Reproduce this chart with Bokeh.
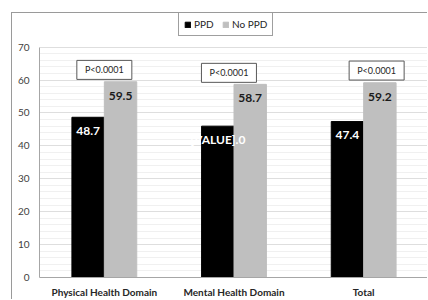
from bokeh.plotting import figure
from bokeh.models import Range1d, FactorRange, FixedTicker, Legend, ColumnDataSource
from bokeh.transform import dodge
from bokeh.core.properties import value
from bokeh.embed import file_html
from bokeh.resources import INLINE

# ---- data ----
categories = ["Physical Health Domain", "Mental Health Domain", "Total"]
ppd = [48.7, 46.0, 47.4]
no_ppd = [59.5, 58.7, 59.2]
ppd_labels = ["48.7", "[VALUE].0", "47.4"]
no_ppd_labels = ["59.5", "58.7", "59.2"]
p_texts = ["P<0.0001", "P<0.0001", "P<0.0001"]
y_ticks = [0, 10, 20, 30, 40, 50, 60, 70]

# ---- layout constants (annotation placement) ----
p_box_dx = [0.0, -0.039, 0.10]
p_box_y = [63.1, 62.2, 62.9]
label_drop = 4.2
FONT = "Lato"
bw = 0.25

src = ColumnDataSource(dict(
    cat=categories, ppd=ppd, no_ppd=no_ppd,
    ppd_ly=[v - label_drop for v in ppd],
    no_ly=[v - label_drop for v in no_ppd],
    ppd_labels=ppd_labels, no_ppd_labels=no_ppd_labels,
))

p = figure(width=416, height=287, x_range=FactorRange(*categories), y_range=Range1d(0, 80.24),
           output_backend="svg", toolbar_location=None,
           min_border_left=27, min_border_right=0, min_border_bottom=23, min_border_top=0)
p.outline_line_color = None
p.background_fill_color = "white"
p.border_fill_color = "white"
p.styles = {"margin-left": "11px", "margin-top": "12px",
            "border-left": "1px solid #9a9a9a", "border-top": "1px solid #9a9a9a"}

xl = dodge("cat", -bw / 2, range=p.x_range)
xr = dodge("cat", bw / 2, range=p.x_range)

r1 = p.vbar(x=xl, top="ppd", width=bw, bottom=0, source=src,
            fill_color="black", line_color="black")
r2 = p.vbar(x=xr, top="no_ppd", width=bw, bottom=0, source=src,
            fill_color="#bfbfbf", line_color="#bfbfbf")

p.text(x=xl, y="ppd_ly", text="ppd_labels", source=src, text_color="white",
       text_font=value(FONT), text_font_style="bold", text_font_size="12px",
       text_align="center", text_baseline="middle")
p.text(x=xr, y="no_ly", text="no_ppd_labels", source=src, text_color="#1a1a1a",
       text_font=value(FONT), text_font_style="bold", text_font_size="12px",
       text_align="center", text_baseline="middle")

for c, dx, yy, t in zip(categories, p_box_dx, p_box_y, p_texts):
    s = ColumnDataSource(dict(cat=[c], y=[yy], t=[t]))
    xb = dodge("cat", dx, range=p.x_range)
    p.rect(x=xb, y="y", width=55, height=19, width_units="screen", height_units="screen",
           fill_color="white", line_color="#595959", line_width=1, source=s)
    p.text(x=xb, y="y", text="t", text_color="#262626", text_font=value(FONT),
           text_font_size="9px", text_align="center", text_baseline="middle", source=s)

# axes
minor = [v for v in range(0, 71, 2) if v % 10]
p.yaxis.ticker = FixedTicker(ticks=y_ticks, minor_ticks=minor)
p.ygrid.ticker = FixedTicker(ticks=y_ticks, minor_ticks=minor)
p.yaxis.bounds = (0, 70)
p.ygrid.bounds = (0, 70)
p.ygrid.grid_line_color = "#dedede"
p.ygrid.minor_grid_line_color = "#f0f0f0"
p.xgrid.grid_line_color = None
for ax in (p.xaxis[0], p.yaxis[0]):
    ax.axis_line_color = "#a6a6a6"
    ax.major_tick_line_color = None
    ax.minor_tick_line_color = None
    ax.major_tick_out = 0
    ax.major_tick_in = 0
    ax.minor_tick_out = 0
    ax.minor_tick_in = 0
    ax.major_label_text_font = FONT
    ax.major_label_text_font_size = "10px"
p.yaxis.major_label_text_color = "#404040"
p.yaxis.major_label_standoff = 10
p.xaxis.major_label_text_font_style = "bold"
p.xaxis.major_label_text_color = "#262626"
p.xaxis.major_label_standoff = 8

legend = Legend(items=[("PPD", [r1]), ("No PPD", [r2])], orientation="horizontal",
                location=(139, 241))
legend.border_line_color = "#404040"
legend.border_line_width = 1
legend.padding = 5
legend.spacing = 8
legend.glyph_width = 7
legend.glyph_height = 7
legend.label_standoff = 3
legend.label_height = 10
legend.label_text_font = FONT
legend.label_text_font_size = "10px"
legend.label_text_color = "#262626"
legend.margin = 0
p.add_layout(legend)

open("out.html", "w").write(file_html(p, INLINE))
